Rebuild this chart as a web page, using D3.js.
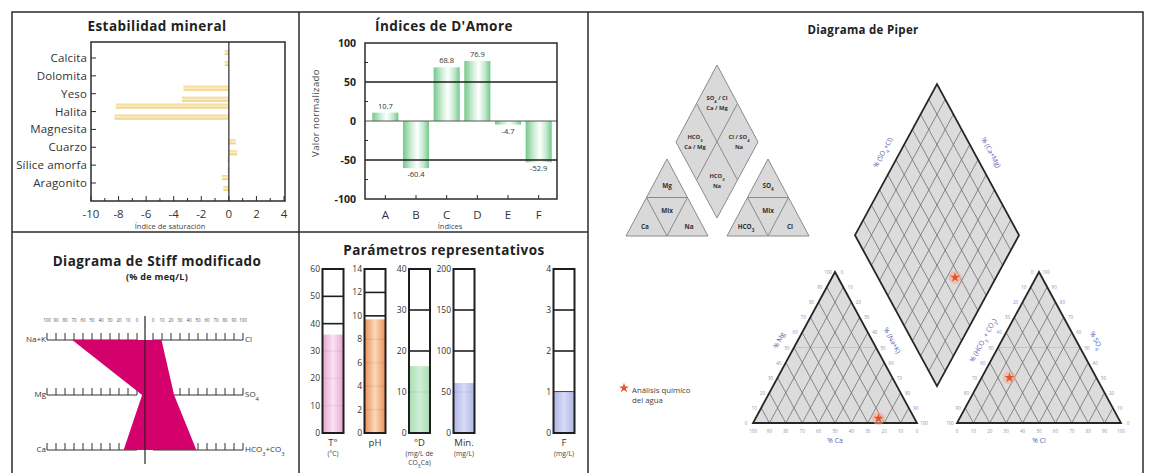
<!DOCTYPE html>
<html><head><meta charset="utf-8">
<script src="https://cdn.jsdelivr.net/npm/d3@7"></script>
<style>
body{margin:0;background:#fff;}
svg{display:block;font-family:"Open Sans",sans-serif;}
.ttl{font-weight:700;font-size:13.5px;letter-spacing:0.45px;fill:#222;}
</style></head><body>
<svg id="chart" width="1153" height="473"></svg>
<script>
// ---- Estabilidad mineral: saturation indices, two estimates per mineral
const minerals = ["Calcita","Dolomita","Yeso","Halita","Magnesita","Cuarzo","Sílice amorfa","Aragonito"];
const siA = [-0.3, 0, -3.3, -8.2, 0, 0.5, -0.1, -0.5];
const siB = [-0.3, 0, -3.4, -8.3, 0, 0.6, -0.1, -0.4];
const siTicks = [-10,-8,-6,-4,-2,0,2,4];

// ---- Índices de D'Amore
const amoreIdx = ["A","B","C","D","E","F"];
const amoreVal = [10.7,-60.4,68.8,76.9,-4.7,-52.9];
const amoreTicks = [-100,-50,0,50,100];

// ---- Major ions (% meq/L), shared by Stiff and Piper
const cationNames = ["Na+K","Mg","Ca"];
const anionNames = ["Cl","SO4","HCO3+CO3"];
const cationPct = [75,3,22];
const anionPct = [17,30,53];
const stiffTicks = [0,10,20,30,40,50,60,70,80,90,100];

// ---- Parámetros representativos
const params = ["T°","pH","°D","Min.","F"];
const paramUnits = [["(°C)"],[],["(mg/L de","CO3Ca)"],["(mg/L)"],["(mg/L)"]];
const paramTicks = [[0,10,20,30,40,50,60],[0,2,4,6,8,10,12,14],[0,10,20,30,40],[0,50,100,150,200],[0,1,2,3,4]];
const paramVal = [36,9.7,16.3,61,1.0];
const paramEdge = ["#e6a0d0","#e98a50","#a3dcae","#aab2e6","#aab2e6"];
const paramMid  = ["#f9e1f1","#fbd6b6","#cdeed3","#d5d9f5","#d5d9f5"];

// ---- Piper axis numbers
const piperTicks = [0,10,20,30,40,50,60,70,80,90,100];

const svg = d3.select("#chart");
const defs = svg.append("defs");
const ink = "#2b2b2b";

// chemical formula: digits become subscripts
function chem(sel, str){
  str.split(/(\d+)/).filter(s=>s.length).forEach(p=>{
    const t = sel.append("tspan").text(p);
    if(/^\d+$/.test(p)) t.attr("baseline-shift","sub").attr("font-size","0.72em");
  });
  return sel;
}

// ---- outer frame and panel dividers
svg.append("rect").attr("x",12).attr("y",12).attr("width",1131).attr("height",470)
  .attr("fill","none").attr("stroke",ink).attr("stroke-width",1.5);
svg.append("line").attr("x1",299).attr("x2",299).attr("y1",12).attr("y2",480).attr("stroke",ink).attr("stroke-width",1.5);
svg.append("line").attr("x1",588).attr("x2",588).attr("y1",12).attr("y2",480).attr("stroke",ink).attr("stroke-width",1.5);
svg.append("line").attr("x1",12).attr("x2",588).attr("y1",232).attr("y2",232).attr("stroke",ink).attr("stroke-width",1.5);

// ================= Estabilidad mineral =================
{
  const g = svg.append("g");
  const x = d3.scaleLinear().domain([-10,4]).range([91,284]);
  const y = d3.scalePoint().domain(minerals).range([58,183]);
  const top = 42, bot = 201;
  const grad = defs.append("linearGradient").attr("id","siGrad").attr("x1",0).attr("x2",0).attr("y1",0).attr("y2",1);
  grad.append("stop").attr("offset","0").attr("stop-color","#f1d385");
  grad.append("stop").attr("offset","0.5").attr("stop-color","#fcefc6");
  grad.append("stop").attr("offset","1").attr("stop-color","#e9c670");

  g.append("text").attr("class","ttl").attr("x",157).attr("y",31).attr("text-anchor","middle").text("Estabilidad mineral");

  [[siA,-5.5],[siB,5.5]].forEach(([vals,off])=>{
    g.selectAll(null).data(minerals.map((m,i)=>({m,v:vals[i]})).filter(d=>d.v!==0)).join("rect")
      .attr("x",d=>x(Math.min(0,d.v))).attr("width",d=>Math.abs(x(d.v)-x(0)))
      .attr("y",d=>y(d.m)+off-2.5).attr("height",5).attr("fill","url(#siGrad)");
  });
  g.append("rect").attr("x",x.range()[0]).attr("y",top).attr("width",x.range()[1]-x.range()[0]+1).attr("height",bot-top)
    .attr("fill","none").attr("stroke",ink).attr("stroke-width",1.5);
  g.append("line").attr("x1",x(0)).attr("x2",x(0)).attr("y1",top).attr("y2",bot).attr("stroke",ink).attr("stroke-width",1.2);
  // ticks
  g.selectAll(null).data(minerals).join("line")
    .attr("x1",x.range()[0]).attr("x2",x.range()[0]+5).attr("y1",d=>y(d)).attr("y2",d=>y(d)).attr("stroke",ink);
  g.selectAll(null).data(d3.range(-10,5)).join("line")
    .attr("x1",d=>x(d)).attr("x2",d=>x(d)).attr("y1",bot).attr("y2",d=>d%2===0?bot-5:bot-3).attr("stroke",ink);
  g.selectAll(null).data(minerals).join("text")
    .attr("x",87).attr("y",d=>y(d)+4).attr("text-anchor","end").attr("font-size",11.5).attr("letter-spacing",0.15)
    .attr("fill","#333").text(d=>d);
  g.selectAll(null).data(siTicks).join("text")
    .attr("x",d=>x(d)).attr("y",218).attr("text-anchor","middle").attr("font-size",11.5).attr("fill","#333").text(d=>d);
  g.append("text").attr("x",170).attr("y",229).attr("text-anchor","middle").attr("font-size",7.5).attr("fill","#444").text("Índice de saturación");
}

// ================= Índices de D'Amore =================
{
  const g = svg.append("g");
  const x = d3.scaleBand().domain(amoreIdx).range([370,554]).paddingInner(0.15).paddingOuter(0.075);
  const y = d3.scaleLinear().domain([-100,100]).range([199,43]);
  const L = 365, R = 557;
  const grad = defs.append("linearGradient").attr("id","amGrad");
  [["0","#74c98c"],["0.3","#c9ecd2"],["0.55","#ffffff"],["0.8","#bfe8cb"],["1","#72c68a"]]
    .forEach(([o,c])=>grad.append("stop").attr("offset",o).attr("stop-color",c));

  g.append("text").attr("class","ttl").attr("x",444).attr("y",31).attr("text-anchor","middle").text("Índices de D'Amore");

  g.selectAll(null).data(amoreIdx.map((k,i)=>({k,v:amoreVal[i]}))).join("rect")
    .attr("x",d=>x(d.k)).attr("width",x.bandwidth())
    .attr("y",d=>y(Math.max(0,d.v))).attr("height",d=>Math.abs(y(d.v)-y(0))).attr("fill","url(#amGrad)");
  [50,-50].forEach(v=>g.append("line").attr("x1",L).attr("x2",R).attr("y1",y(v)).attr("y2",y(v)).attr("stroke","#1e1e1e").attr("stroke-width",1.6));
  g.append("line").attr("x1",L).attr("x2",R).attr("y1",y(0)).attr("y2",y(0)).attr("stroke","#555").attr("stroke-width",1);
  g.append("rect").attr("x",L).attr("y",y(100)).attr("width",R-L).attr("height",y(-100)-y(100))
    .attr("fill","none").attr("stroke",ink).attr("stroke-width",1.5);
  g.selectAll(null).data([-75,-25,25,75]).join("line")
    .attr("x1",L).attr("x2",L+3).attr("y1",d=>y(d)).attr("y2",d=>y(d)).attr("stroke",ink);
  g.selectAll(null).data(amoreIdx).join("line")
    .attr("x1",d=>x(d)+x.bandwidth()/2).attr("x2",d=>x(d)+x.bandwidth()/2).attr("y1",199).attr("y2",195).attr("stroke",ink);
  g.selectAll(null).data(amoreTicks).join("text")
    .attr("x",356).attr("y",d=>y(d)+4).attr("text-anchor","end").attr("font-size",10.5).attr("font-weight",700).attr("fill","#222").text(d=>d);
  g.selectAll(null).data(amoreIdx).join("text")
    .attr("x",d=>x(d)+x.bandwidth()/2).attr("y",219).attr("text-anchor","middle").attr("font-size",11.5).attr("fill","#333").text(d=>d);
  g.selectAll(null).data(amoreIdx.map((k,i)=>({k,v:amoreVal[i]}))).join("text")
    .attr("x",d=>x(d.k)+x.bandwidth()/2).attr("y",d=>d.v>=0?y(d.v)-4:y(d.v)+9)
    .attr("text-anchor","middle").attr("font-size",7.5).attr("fill","#333").text(d=>d.v);
  g.append("text").attr("transform","translate(319,113) rotate(-90)").attr("text-anchor","middle")
    .attr("font-size",9.5).attr("letter-spacing",0.4).attr("fill","#444").text("Valor normalizado");
  g.append("text").attr("x",450).attr("y",229).attr("text-anchor","middle").attr("font-size",7.5).attr("fill","#444").text("Índices");
}

// ================= Diagrama de Stiff modificado =================
{
  const g = svg.append("g");
  const cx = 145;
  const rows = d3.scalePoint().domain([0,1,2]).range([340,450]);
  const sPoly = d3.scaleLinear().domain([0,100]).range([0,97]);
  const sRuler = d3.scaleLinear().domain([0,100]).range([8,98]);

  g.append("text").attr("class","ttl").attr("x",157).attr("y",266).attr("text-anchor","middle").text("Diagrama de Stiff modificado");
  g.append("text").attr("x",157).attr("y",280).attr("text-anchor","middle")
    .attr("font-weight",700).attr("font-size",9).attr("letter-spacing",0.3).attr("fill","#222").text("(% de meq/L)");

  [-1,1].forEach(sgn=>{
    g.selectAll(null).data(stiffTicks).join("text")
      .attr("x",d=>cx+sgn*sRuler(d)).attr("y",322).attr("text-anchor","middle")
      .attr("font-size",4.5).attr("fill","#555").text(d=>d);
    rows.domain().forEach(r=>{
      const yy = rows(r);
      g.append("line").attr("x1",cx+sgn*sRuler(0)).attr("x2",cx+sgn*sRuler(100)).attr("y1",yy).attr("y2",yy)
        .attr("stroke","#333").attr("stroke-width",1.1);
      g.selectAll(null).data(stiffTicks).join("line")
        .attr("x1",d=>cx+sgn*sRuler(d)).attr("x2",d=>cx+sgn*sRuler(d)).attr("y1",yy).attr("y2",yy-7)
        .attr("stroke","#333").attr("stroke-width",1);
    });
  });
  const pts = cationPct.map((v,i)=>[cx-sPoly(v),rows(i)])
    .concat(anionPct.map((v,i)=>[cx+sPoly(v),rows(i)]).reverse());
  g.append("path").attr("d",d3.line()(pts)+"Z").attr("fill","#d4006c");
  g.append("line").attr("x1",cx).attr("x2",cx).attr("y1",316).attr("y2",464).attr("stroke","#222").attr("stroke-width",1.2);

  cationNames.forEach((n,i)=>chem(g.append("text").attr("x",cx-sRuler(100)-1).attr("y",rows(i)+2)
    .attr("text-anchor","end").attr("font-size",8).attr("fill","#333"),n));
  anionNames.forEach((n,i)=>chem(g.append("text").attr("x",cx+sRuler(100)+2).attr("y",rows(i)+2)
    .attr("font-size",8).attr("fill","#333"),n));
}

// ================= Parámetros representativos =================
{
  const g = svg.append("g");
  const colX = d3.scaleOrdinal().domain(params).range([333,375,419.5,464,564]);
  const w = 21, top = 269, bot = 433;

  g.append("text").attr("class","ttl").attr("x",444).attr("y",255).attr("text-anchor","middle").text("Parámetros representativos");

  params.forEach((p,i)=>{
    const ticks = paramTicks[i];
    const y = d3.scaleLinear().domain([0,d3.max(ticks)]).range([bot,top]);
    const x0 = colX(p)-w/2;
    const gid = "pg"+i;
    const grad = defs.append("linearGradient").attr("id",gid);
    grad.append("stop").attr("offset","0").attr("stop-color",paramEdge[i]);
    grad.append("stop").attr("offset","0.5").attr("stop-color",paramMid[i]);
    grad.append("stop").attr("offset","1").attr("stop-color",paramEdge[i]);
    const inner = ticks.slice(1,-1);
    g.selectAll(null).data(inner).join("line")
      .attr("x1",x0).attr("x2",x0+w).attr("y1",d=>y(d)).attr("y2",d=>y(d)).attr("stroke","#1e1e1e").attr("stroke-width",1.6);
    g.append("rect").attr("x",x0).attr("width",w).attr("y",y(paramVal[i])).attr("height",bot-y(paramVal[i]))
      .attr("fill","url(#"+gid+")").attr("opacity",0.95);
    g.selectAll(null).data(inner.filter(d=>d<paramVal[i])).join("line")
      .attr("x1",x0).attr("x2",x0+2.5).attr("y1",d=>y(d)).attr("y2",d=>y(d)).attr("stroke",paramEdge[i]).attr("stroke-width",1.2);
    g.append("rect").attr("x",x0).attr("width",w).attr("y",top).attr("height",bot-top)
      .attr("fill","none").attr("stroke","#1e1e1e").attr("stroke-width",2);
    g.selectAll(null).data(ticks).join("text")
      .attr("x",x0-2.5).attr("y",d=>y(d)+3).attr("text-anchor","end").attr("font-size",8.5).attr("fill","#333").text(d=>d);
    g.append("text").attr("x",colX(p)).attr("y",446).attr("text-anchor","middle").attr("font-size",9.5).attr("fill","#333").text(p);
    paramUnits[i].forEach((u,j)=>chem(g.append("text").attr("x",colX(p)).attr("y",456+j*9)
      .attr("text-anchor","middle").attr("font-size",6.8).attr("fill","#444"),u));
  });
}

// ================= Diagrama de Piper =================
{
  const g = svg.append("g");
  g.append("text").attr("x",863).attr("y",34).attr("text-anchor","middle")
    .attr("font-weight",700).attr("font-size",11.5).attr("letter-spacing",0.3).attr("fill","#222").text("Diagrama de Piper");

  // ---- key diagrams
  const kf = "#d9d9d9", ks = "#8a8a8a";
  const key = g.append("g");
  const poly = (p)=>d3.line()(p)+"Z";
  const mid = (a,b)=>[(a[0]+b[0])/2,(a[1]+b[1])/2];
  const kLabel = (x,y,lines,fs)=>{
    lines.forEach((l,j)=>chem(key.append("text").attr("x",x).attr("y",y+j*9.5-(lines.length-1)*4.75+2.2)
      .attr("text-anchor","middle").attr("font-size",fs||6.4).attr("font-weight",700).attr("fill","#333"),l));
  };
  {
    const T=[717,65], Lf=[676,142], Rt=[758,142], B=[717,218];
    key.append("path").attr("d",poly([T,Rt,B,Lf])).attr("fill",kf).attr("stroke",ks);
    key.append("line").attr("x1",mid(T,Lf)[0]).attr("y1",mid(T,Lf)[1]).attr("x2",mid(Rt,B)[0]).attr("y2",mid(Rt,B)[1]).attr("stroke",ks);
    key.append("line").attr("x1",mid(T,Rt)[0]).attr("y1",mid(T,Rt)[1]).attr("x2",mid(Lf,B)[0]).attr("y2",mid(Lf,B)[1]).attr("stroke",ks);
    kLabel(717,103,["SO4 / Cl","Ca / Mg"],5.8);
    kLabel(695,142,["HCO3","Ca / Mg"],5.8);
    kLabel(739,142,["Cl / SO4","Na"],5.8);
    kLabel(717,181,["HCO3","Na"],5.8);
  }
  [[667,["Mg","Mix","Ca","Na"]],[768,["SO4","Mix","HCO3","Cl"]]].forEach(([ax,labs])=>{
    const A=[ax,159], Lf=[ax-41,236], Rt=[ax+41,236];
    key.append("path").attr("d",poly([A,Rt,Lf])).attr("fill",kf).attr("stroke",ks);
    key.append("path").attr("d",poly([mid(Lf,A),mid(Rt,A),mid(Lf,Rt)])).attr("fill","none").attr("stroke",ks);
    kLabel(ax,186,[labs[0]]); kLabel(ax,211,[labs[1]]);
    kLabel(ax-22,227,[labs[2]]); kLabel(ax+22,227,[labs[3]]);
  });

  // ---- main diagram geometry
  const side = 164, triH = 151, gap = 40, baseY = 423, x0L = 753;
  const tx = d3.scaleLinear().domain([0,1]).range([0,side]);
  const ty = d3.scaleLinear().domain([0,1]).range([0,triH]);
  const x0R = x0L + side + gap;
  // ternary point: r = right-vertex share, a = apex share
  const tri = (ox,r,a)=>[ox+tx(r+a/2), baseY-ty(a)];
  const B = [x0L+side+gap/2, baseY-ty(gap/side)];
  const dia = (c,a)=>[B[0]+tx(0.5)*(a-c), B[1]-ty(1)*(a+c)];
  const fillC = "#dcdcdc", gridC = "#6e6e6e", edgeC = "#262626", numC = "#8a90c2", axC = "#5560b5";
  const steps = d3.range(1,10).map(d=>d/10);

  [x0L,x0R].forEach(ox=>{
    const Lv=tri(ox,0,0), Rv=tri(ox,1,0), Av=tri(ox,0,1);
    g.append("path").attr("d",poly([Lv,Rv,Av])).attr("fill",fillC);
    g.append("line").attr("x1",tri(ox,0,0.5)[0]).attr("x2",tri(ox,0.5,0.5)[0]).attr("y1",tri(ox,0,0.5)[1]).attr("y2",tri(ox,0,0.5)[1])
      .attr("stroke","#9fd6a0").attr("stroke-width",1.2).attr("opacity",0.8);
    steps.forEach(t=>{
      let p=tri(ox,t,0), q=tri(ox,t,1-t);
      g.append("line").attr("x1",p[0]).attr("y1",p[1]).attr("x2",q[0]).attr("y2",q[1]).attr("stroke",gridC).attr("stroke-width",0.8);
      p=tri(ox,t,0); q=tri(ox,0,t);
      g.append("line").attr("x1",p[0]).attr("y1",p[1]).attr("x2",q[0]).attr("y2",q[1]).attr("stroke",gridC).attr("stroke-width",0.8);
    });
    g.append("path").attr("d",poly([Lv,Rv,Av])).attr("fill","none").attr("stroke",edgeC).attr("stroke-width",1.8);
  });

  {
    const Lv=dia(1,0), Rv=dia(0,1), Tv=dia(1,1);
    g.append("path").attr("d",poly([B,Rv,Tv,Lv])).attr("fill",fillC);
    steps.forEach(t=>{
      let p=dia(t,0), q=dia(t,1);
      g.append("line").attr("x1",p[0]).attr("y1",p[1]).attr("x2",q[0]).attr("y2",q[1]).attr("stroke",gridC).attr("stroke-width",0.8);
      p=dia(0,t); q=dia(1,t);
      g.append("line").attr("x1",p[0]).attr("y1",p[1]).attr("x2",q[0]).attr("y2",q[1]).attr("stroke",gridC).attr("stroke-width",0.8);
    });
    g.append("path").attr("d",poly([B,Rv,Tv,Lv])).attr("fill","none").attr("stroke",edgeC).attr("stroke-width",1.8);
  }

  // ---- axis numbers
  const num = (x,y,v)=>g.append("text").attr("x",x).attr("y",y).attr("text-anchor","middle")
    .attr("font-size",4.5).attr("fill",numC).text(v);
  piperTicks.forEach(v=>{
    const t=v/100;
    // left triangle: Ca along base, Mg on left side, Na+K on right side
    let p=tri(x0L,t,0); num(p[0],p[1]+10,100-v);
    p=tri(x0L,0,t); num(p[0]-7,p[1]+2,v);
    p=tri(x0L,1-t,t); num(p[0]+7,p[1]+2,100-v);
    // right triangle: Cl along base, HCO3+CO3 on left side, SO4 on right side
    p=tri(x0R,t,0); num(p[0],p[1]+10,v);
    p=tri(x0R,0,t); num(p[0]-7,p[1]+2,100-v);
    p=tri(x0R,1-t,t); num(p[0]+7,p[1]+2,v);
  });

  // ---- axis titles
  const ang = Math.atan2(ty(1),tx(0.5))*180/Math.PI;
  const axTitle = (p,rot,str)=>chem(g.append("text").attr("transform",`translate(${p[0]},${p[1]}) rotate(${rot})`)
    .attr("text-anchor","middle").attr("font-size",6.8).attr("fill",axC),str);
  let m = tri(x0L,0,0.5); axTitle([m[0]-13,m[1]-6],-ang,"% Mg");
  m = tri(x0L,0.5,0.5); axTitle([m[0]+14,m[1]-6],ang,"% (Na+K)");
  m = tri(x0R,0,0.5); axTitle([m[0]-13,m[1]-6],-ang,"% (HCO3 + CO3)");
  m = tri(x0R,0.5,0.5); axTitle([m[0]+14,m[1]-6],ang,"% SO4");
  m = dia(1,0.5); axTitle([m[0]-11,m[1]-6],-ang,"% (SO4+Cl)");
  m = dia(0.5,1); axTitle([m[0]+11,m[1]-6],ang,"% (Ca+Mg)");
  axTitle([tri(x0L,0.5,0)[0],baseY+20],0,"% Ca");
  axTitle([tri(x0R,0.5,0)[0],baseY+20],0,"% Cl");

  // ---- sample
  const star = d3.symbol().type(d3.symbolStar).size(30);
  const mark = (p)=>{
    g.append("circle").attr("cx",p[0]).attr("cy",p[1]).attr("r",6.5).attr("fill","#f5a98f").attr("opacity",0.55);
    g.append("path").attr("d",star()).attr("transform",`translate(${p[0]},${p[1]})`).attr("fill","#e4532a");
  };
  const [na,mg,ca] = cationPct.map(v=>v/100);
  const [cl,so4,hco3] = anionPct.map(v=>v/100);
  mark(tri(x0L,na,mg));
  mark(tri(x0R,cl,so4));
  mark(dia(ca+mg,so4+cl));

  // ---- legend
  g.append("path").attr("d",star()).attr("transform","translate(624,388)").attr("fill","#e4532a");
  g.append("text").attr("x",632).attr("y",393).attr("font-size",7.8).attr("fill","#444").text("Análisis químico");
  g.append("text").attr("x",632).attr("y",403).attr("font-size",7.8).attr("fill","#444").text("del agua");
}
</script>
</body></html>
